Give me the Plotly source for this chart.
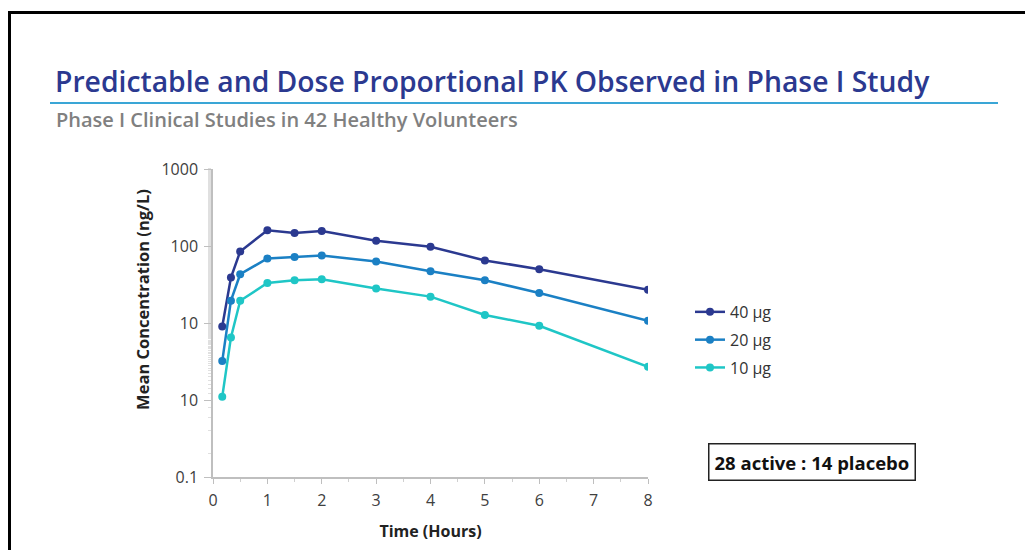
import plotly.graph_objects as go

# ---- data ----
time_h = [0.17, 0.33, 0.5, 1, 1.5, 2, 3, 4, 5, 6, 8]
conc_40 = [9.0, 39, 85, 160, 148, 157, 117, 98, 65, 50, 27]
conc_20 = [3.2, 19.5, 43, 69, 72, 75, 63, 47, 36, 24.5, 10.7]
conc_10 = [1.1, 6.5, 19.5, 33, 36, 37, 28, 22, 12.7, 9.2, 2.7]
series_names = ["40 µg", "20 µg", "10 µg"]
series_colors = ["#2b3990", "#1b80c4", "#1fc6c6"]
y_tickvals = [0.1, 1, 10, 100, 1000]
y_ticktext = ["0.1", "10", "10", "100", "1000"]
x_tickvals = [0, 1, 2, 3, 4, 5, 6, 7, 8]

W, H = 1025, 550
L, R, T, B = 213, 648, 169, 482  # plot area in pixels


def px(x):
    return (x - L) / (R - L)


def py(y):
    return (B - y) / (B - T)


FONT = "Open Sans"
fig = go.Figure()
for name, vals, col in zip(series_names, [conc_40, conc_20, conc_10], series_colors):
    fig.add_trace(go.Scatter(
        x=time_h, y=vals, name=name, mode="lines+markers", legendgroup=name,
        line=dict(color=col, width=2.5),
        marker=dict(color=col, size=8, symbol="circle"),
    ))

fig.update_layout(
    width=W, height=H,
    margin=dict(l=L, r=W - R, t=T, b=H - B, pad=0),
    paper_bgcolor="white", plot_bgcolor="white",
    font=dict(family=FONT, size=14, color="#404040"),
    showlegend=True,
    legend=dict(x=px(690), y=py(297), xanchor="left", yanchor="top",
                font=dict(size=16, color="#333333"), tracegroupgap=4,
                itemwidth=30, bgcolor="rgba(0,0,0,0)"),
)

fig.update_xaxes(
    range=[0, 8], tickvals=x_tickvals, showgrid=False, zeroline=False,
    showline=True, linecolor="#bfbfbf", linewidth=1.5,
    ticks="outside", ticklen=5, tickcolor="#bfbfbf", ticklabelstandoff=3,
    tickfont=dict(size=16, color="#404040"),
    minor=dict(dtick=0.5, ticks="outside", ticklen=3, tickcolor="#d0d0d0"),
    title=dict(text="<b>Time (Hours)</b>", font=dict(size=16, color="#222222"), standoff=16),
)
fig.update_yaxes(
    type="log", range=[-1, 3], tickvals=y_tickvals, ticktext=y_ticktext,
    showgrid=False, zeroline=False,
    showline=True, linecolor="#bfbfbf", linewidth=1.5,
    ticks="outside", ticklen=7, tickcolor="#bfbfbf", ticklabelstandoff=3,
    tickfont=dict(size=16, color="#404040"),
    minor=dict(ticks="outside", ticklen=3, tickcolor="#e0e0e0", tickwidth=1, showgrid=False),
)

# y-axis title (placed as in the reference, slightly above centre)
fig.add_annotation(text="<b>Mean Concentration (ng/L)</b>", textangle=-90,
                   xref="paper", yref="paper", x=px(143), y=py(302), xanchor="center", yanchor="middle",
                   showarrow=False, font=dict(family=FONT, size=16.5, color="#222222"))

# title, subtitle, decorations
fig.add_annotation(text="Predictable and Dose Proportional PK Observed in Phase I Study",
                   xref="paper", yref="paper", x=px(53), y=py(80), xanchor="left", yanchor="middle",
                   showarrow=False, font=dict(family=FONT, size=28.3, color="#2b3990", weight=600))
fig.add_annotation(text="Phase I Clinical Studies in 42 Healthy Volunteers",
                   xref="paper", yref="paper", x=px(54), y=py(119), xanchor="left", yanchor="middle",
                   showarrow=False, font=dict(family=FONT, size=20, color="#808080", weight=600))
fig.add_annotation(text="<b>28 active : 14 placebo</b>",
                   xref="paper", yref="paper", x=px(812), y=py(467), xanchor="center", yanchor="middle",
                   showarrow=False, font=dict(family=FONT, size=18.5, color="#111111"),
                   bordercolor="#222222", borderwidth=1.5, borderpad=5, bgcolor="white")

fig.add_shape(type="line", xref="paper", yref="paper", x0=px(50), x1=px(998), y0=py(102), y1=py(102),
              line=dict(color="#3aa6d6", width=2))
fig.add_shape(type="line", xref="paper", yref="paper", x0=px(8), x1=px(1030), y0=py(10), y1=py(10),
              line=dict(color="black", width=3))
fig.add_shape(type="line", xref="paper", yref="paper", x0=px(9.5), x1=px(9.5), y0=py(9), y1=py(560),
              line=dict(color="black", width=3))

fig.write_html("out.html", config={"displayModeBar": False},
               post_script="document.body.style.margin='0';document.body.style.overflow='hidden';")
